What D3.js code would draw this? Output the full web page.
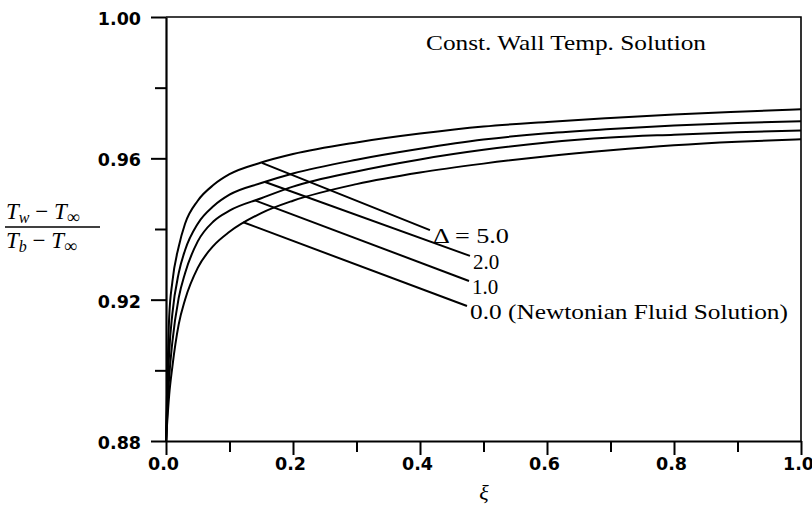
<!DOCTYPE html>
<html>
<head>
<meta charset="utf-8">
<script src="https://cdn.jsdelivr.net/npm/d3@7"></script>
<style>
  html, body { margin: 0; padding: 0; background: #fff; }
  svg { display: block; }
</style>
</head>
<body>
<svg id="chart" width="812" height="508"></svg>
<script>
// ---------------- data ----------------
const xi = [0, 0.005, 0.01, 0.02, 0.03, 0.05, 0.075, 0.1, 0.15, 0.2, 0.3, 0.4, 0.5, 0.6, 0.7, 0.8, 0.9, 1.0];
const delta50 = [0.880, 0.915, 0.925, 0.935, 0.9415, 0.948, 0.9525, 0.9555, 0.9588, 0.9612, 0.9645, 0.9670, 0.9690, 0.9703, 0.9714, 0.9724, 0.9732, 0.9739];
const delta20 = [0.880, 0.905, 0.916, 0.9275, 0.934, 0.9415, 0.9465, 0.9497, 0.9530, 0.9557, 0.9596, 0.9627, 0.9653, 0.9671, 0.9683, 0.9693, 0.9700, 0.9705];
const delta10 = [0.880, 0.898, 0.908, 0.9205, 0.9275, 0.9365, 0.9422, 0.9452, 0.9487, 0.9520, 0.9563, 0.9597, 0.9624, 0.9645, 0.9659, 0.9667, 0.9674, 0.9679];
const delta00 = [0.880, 0.893, 0.901, 0.913, 0.920, 0.929, 0.9353, 0.9392, 0.9445, 0.9480, 0.9527, 0.9560, 0.9585, 0.9606, 0.9623, 0.9637, 0.9647, 0.9654];
const seriesValues = [delta50, delta20, delta10, delta00];
const seriesLabels = ["\u0394 = 5.0", "2.0", "1.0", "0.0 (Newtonian Fluid Solution)"];
// leader lines: start on the curve, end at the label
const leaderStartXi  = [0.151, 0.156, 0.140, 0.1217];
const leaderStartVal = [0.9587, 0.9533, 0.9481, 0.9419];
const leaderEndXi    = [0.4157, 0.4787, 0.4772, 0.474];
const leaderEndVal   = [0.9397, 0.9324, 0.9253, 0.9182];
const xMajorTicks = [0, 0.2, 0.4, 0.6, 0.8, 1.0];
const xMinorTicks = [0.1, 0.3, 0.5, 0.7, 0.9];
const yMajorTicks = [0.88, 0.92, 0.96, 1.00];
const yMinorTicks = [0.90, 0.94, 0.98];
const annotation = "Const. Wall Temp. Solution";

// ---------------- layout ----------------
const svg = d3.select("#chart");
const mLeft = 166, mRight = 801, mTop = 17, mBottom = 441;
const x = d3.scaleLinear().domain([0, 1]).range([mLeft, mRight]);
const y = d3.scaleLinear().domain([0.88, 1.00]).range([mBottom, mTop]);

const tickFont = "'DejaVu Sans', sans-serif";
const serif = "'Liberation Serif', 'Times New Roman', serif";

// frame (top & right)
svg.append("path")
  .attr("d", `M${mLeft},${mTop}H${mRight}V${mBottom}`)
  .attr("fill", "none").attr("stroke", "#000").attr("stroke-width", 1.6);

// x axis
const xAxis = svg.append("g").attr("transform", `translate(0,${mBottom})`)
  .call(d3.axisBottom(x).tickValues(xMajorTicks).tickSize(14).tickSizeOuter(0)
        .tickFormat(d3.format(".1f")));
xAxis.select(".domain").attr("stroke-width", 2.2);
xAxis.selectAll(".tick line").attr("stroke-width", 2);
xAxis.selectAll(".tick text")
  .attr("font-family", tickFont).attr("font-weight", "bold").attr("font-size", 17.5)
  .attr("dx", -3).attr("y", 17).attr("dy", "0.71em").attr("fill", "#000");
svg.append("g").attr("transform", `translate(0,${mBottom})`)
  .call(d3.axisBottom(x).tickValues(xMinorTicks).tickSize(11).tickFormat(""))
  .call(g => { g.select(".domain").remove(); g.selectAll(".tick line").attr("stroke-width", 2); });

// y axis
const yAxis = svg.append("g").attr("transform", `translate(${mLeft},0)`)
  .call(d3.axisLeft(y).tickValues(yMajorTicks).tickSize(15).tickSizeOuter(0)
        .tickFormat(d3.format(".2f")));
yAxis.select(".domain").attr("stroke-width", 2.2);
yAxis.selectAll(".tick line").attr("stroke-width", 2);
yAxis.selectAll(".tick text")
  .attr("font-family", tickFont).attr("font-weight", "bold").attr("font-size", 17.5)
  .attr("x", -25).attr("dy", "0.42em").attr("fill", "#000");
svg.append("g").attr("transform", `translate(${mLeft},0)`)
  .call(d3.axisLeft(y).tickValues(yMinorTicks).tickSize(11).tickFormat(""))
  .call(g => { g.select(".domain").remove(); g.selectAll(".tick line").attr("stroke-width", 2); });

// curves
const line = d3.line().x((d, i) => x(xi[i])).y(d => y(d)).curve(d3.curveMonotoneX);
svg.append("g").selectAll("path").data(seriesValues).join("path")
  .attr("d", d => line(d))
  .attr("fill", "none").attr("stroke", "#000").attr("stroke-width", 2);

// leader lines
svg.append("g").selectAll("line").data(seriesLabels).join("line")
  .attr("x1", (d, i) => x(leaderStartXi[i])).attr("y1", (d, i) => y(leaderStartVal[i]))
  .attr("x2", (d, i) => x(leaderEndXi[i])).attr("y2", (d, i) => y(leaderEndVal[i]))
  .attr("stroke", "#000").attr("stroke-width", 2);

// series labels
svg.append("g").selectAll("text").data(seriesLabels).join("text")
  .attr("x", (d, i) => x(leaderEndXi[i]) + 3)
  .attr("y", (d, i) => y(leaderEndVal[i]) + 13)
  .attr("font-family", serif).attr("font-size", 21).attr("fill", "#000")
  .text(d => d)
  .each(function(d, i) {
    if (i === 3) d3.select(this).attr("textLength", 318).attr("lengthAdjust", "spacingAndGlyphs");
    if (i === 0) d3.select(this).attr("textLength", 76).attr("lengthAdjust", "spacingAndGlyphs");
  });

// annotation
svg.append("text")
  .attr("x", 426).attr("y", 50)
  .attr("font-family", serif).attr("font-size", 21).attr("fill", "#000")
  .attr("textLength", 280).attr("lengthAdjust", "spacingAndGlyphs")
  .text(annotation);

// x label
svg.append("text")
  .attr("x", 484).attr("y", 500).attr("text-anchor", "middle")
  .attr("font-family", serif).attr("font-style", "italic").attr("font-size", 22)
  .text("\u03BE");

// y label: fraction
function fracPart(yBase, sub) {
  const t = svg.append("text").attr("x", 6).attr("y", yBase)
    .attr("font-family", serif).attr("font-size", 23).attr("fill", "#000");
  t.append("tspan").attr("font-style", "italic").text("T");
  t.append("tspan").attr("font-style", "italic").attr("font-size", 16).attr("dy", 4).text(sub);
  t.append("tspan").attr("dy", -4).text(" \u2212 ");
  t.append("tspan").attr("font-style", "italic").text("T");
  t.append("tspan").attr("font-size", 18).attr("dy", 4).text("\u221E");
  return t;
}
fracPart(219, "w");
svg.append("line").attr("x1", 5).attr("x2", 100).attr("y1", 227).attr("y2", 227)
  .attr("stroke", "#000").attr("stroke-width", 1.5);
fracPart(248, "b");
</script>
</body>
</html>
